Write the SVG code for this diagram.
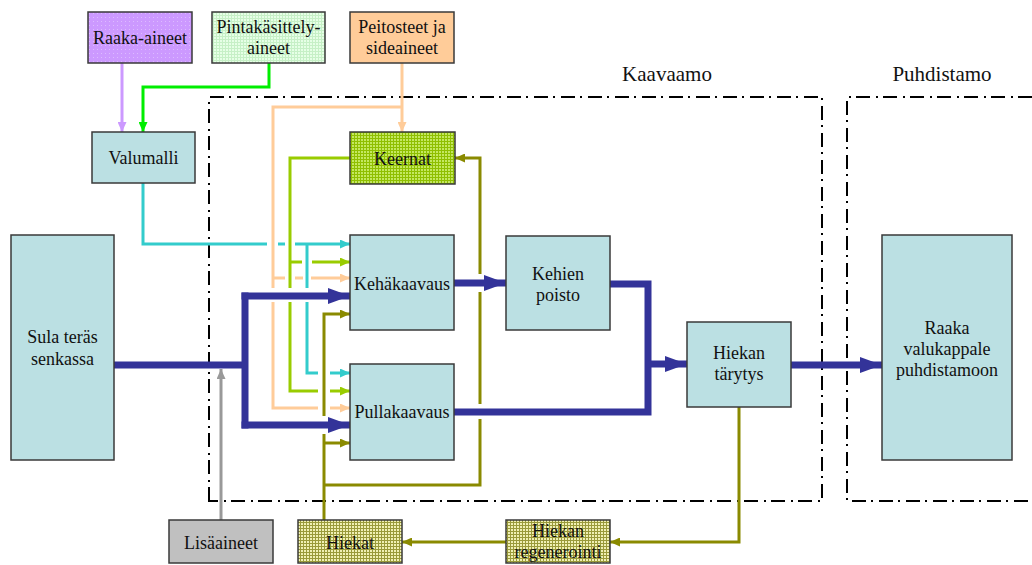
<svg xmlns="http://www.w3.org/2000/svg" width="1032" height="565" viewBox="0 0 1032 565">
  <style>
    .box { stroke: #3a3a3a; stroke-width: 1.5; }
    .blue { fill: #bbe0e3; }
    .txt { font-family: "Liberation Serif", "Times New Roman", serif; font-size: 18px; fill: #111; text-anchor: middle; }
    .area { font-family: "Liberation Serif", "Times New Roman", serif; font-size: 21px; fill: #111; text-anchor: middle; }
    .zone { fill: none; stroke: #000; stroke-width: 2; stroke-dasharray: 14 5 2 6; }
    .ln { fill: none; stroke-width: 3; stroke-linejoin: miter; stroke-linecap: butt; }
    .navy { stroke: #333399; stroke-width: 7; }
    .cyan { stroke: #33cccc; }
    .peach { stroke: #ffcc99; }
    .lime { stroke: #99cc00; }
    .olive { stroke: #8a8a00; }
    .gray { stroke: #999999; }
    .lilac { stroke: #cc99ff; }
    .bright { stroke: #00ee00; }
  </style>
  <defs>
    <pattern id="dotsLilac" width="4" height="4" patternUnits="userSpaceOnUse">
      <rect width="4" height="4" fill="#cc99ff"/>
      <rect x="1" y="1" width="1" height="1" fill="#ddbbff"/>
    </pattern>
    <pattern id="gridMint" width="3" height="3" patternUnits="userSpaceOnUse">
      <rect width="3" height="3" fill="#e6ffe6"/>
      <rect width="3" height="1" fill="#c6f0c6"/>
      <rect width="1" height="3" fill="#c6f0c6"/>
    </pattern>
    <pattern id="gridLime" width="3" height="3" patternUnits="userSpaceOnUse">
      <rect width="3" height="3" fill="#c4e860"/>
      <rect width="3" height="1" fill="#8fbf00"/>
      <rect width="1" height="3" fill="#8fbf00"/>
    </pattern>
    <pattern id="gridKhaki" width="3" height="3" patternUnits="userSpaceOnUse">
      <rect width="3" height="3" fill="#f0f0b4"/>
      <rect width="3" height="1" fill="#9a9a3a"/>
      <rect width="1" height="3" fill="#9a9a3a"/>
    </pattern>
    <marker id="aNavy" markerUnits="userSpaceOnUse" markerWidth="22" markerHeight="16" refX="22" refY="8" orient="auto">
      <path d="M0,0 L22,8 L0,16 z" fill="#333399"/>
    </marker>
    <marker id="aCyan" markerUnits="userSpaceOnUse" markerWidth="10" markerHeight="9" refX="10" refY="4.5" orient="auto">
      <path d="M0,0 L10,4.5 L0,9 z" fill="#33cccc"/>
    </marker>
    <marker id="aPeach" markerUnits="userSpaceOnUse" markerWidth="10" markerHeight="9" refX="10" refY="4.5" orient="auto">
      <path d="M0,0 L10,4.5 L0,9 z" fill="#ffcc99"/>
    </marker>
    <marker id="aLime" markerUnits="userSpaceOnUse" markerWidth="10" markerHeight="9" refX="10" refY="4.5" orient="auto">
      <path d="M0,0 L10,4.5 L0,9 z" fill="#99cc00"/>
    </marker>
    <marker id="aOlive" markerUnits="userSpaceOnUse" markerWidth="10" markerHeight="9" refX="10" refY="4.5" orient="auto">
      <path d="M0,0 L10,4.5 L0,9 z" fill="#8a8a00"/>
    </marker>
    <marker id="aGray" markerUnits="userSpaceOnUse" markerWidth="10" markerHeight="9" refX="10" refY="4.5" orient="auto">
      <path d="M0,0 L10,4.5 L0,9 z" fill="#999999"/>
    </marker>
    <marker id="aLilac" markerUnits="userSpaceOnUse" markerWidth="10" markerHeight="9" refX="10" refY="4.5" orient="auto">
      <path d="M0,0 L10,4.5 L0,9 z" fill="#cc99ff"/>
    </marker>
    <marker id="aBright" markerUnits="userSpaceOnUse" markerWidth="10" markerHeight="9" refX="10" refY="4.5" orient="auto">
      <path d="M0,0 L10,4.5 L0,9 z" fill="#00ee00"/>
    </marker>
  </defs>

  <rect width="1032" height="565" fill="#ffffff"/>

  <!-- plant areas -->
  <g id="areas">
    <path class="zone" d="M209,501 V97 H822 V501 Z"/>
    <path class="zone" d="M1032,97 H847 V501 H1032"/>
    <text class="area" x="667" y="81">Kaavaamo</text>
    <text class="area" x="942" y="81">Puhdistamo</text>
  </g>

  <!-- material flows -->
  <g id="connectors">
    <!-- inputs to the pattern -->
    <path class="ln lilac" d="M122,63 V132" marker-end="url(#aLilac)"/>
    <path class="ln bright" d="M269,63 V87 H143 V132" marker-end="url(#aBright)"/>

    <!-- binders -->
    <path class="ln peach" d="M402,63 V132" marker-end="url(#aPeach)"/>
    <path class="ln peach" d="M402,107 H273 V288"/>
    <path class="ln peach" d="M273,302 V408 H318"/>
    <path class="ln peach" d="M330,408 H350" marker-end="url(#aPeach)"/>
    <path class="ln peach" d="M273,278 H285"/>
    <path class="ln peach" d="M295,278 H303"/>
    <path class="ln peach" d="M311,278 H350" marker-end="url(#aPeach)"/>

    <!-- cores -->
    <path class="ln lime" d="M350,158 H290 V288"/>
    <path class="ln lime" d="M290,302 V391 H318"/>
    <path class="ln lime" d="M330,391 H350" marker-end="url(#aLime)"/>
    <path class="ln lime" d="M290,262 H302"/>
    <path class="ln lime" d="M312,262 H350" marker-end="url(#aLime)"/>

    <!-- pattern -->
    <path class="ln cyan" d="M143,183 V244 H267"/>
    <path class="ln cyan" d="M278,244 H285"/>
    <path class="ln cyan" d="M295,244 H350" marker-end="url(#aCyan)"/>
    <path class="ln cyan" d="M307,244 V288"/>
    <path class="ln cyan" d="M307,302 V373 H318"/>
    <path class="ln cyan" d="M330,373 H350" marker-end="url(#aCyan)"/>

    <!-- sand circuit -->
    <path class="ln olive" d="M739,407 V542 H610" marker-end="url(#aOlive)"/>
    <path class="ln olive" d="M506,542 H402" marker-end="url(#aOlive)"/>
    <path class="ln olive" d="M324,520 V434"/>
    <path class="ln olive" d="M324,416 V314 H350" marker-end="url(#aOlive)"/>
    <path class="ln olive" d="M324,443 H350" marker-end="url(#aOlive)"/>
    <path class="ln olive" d="M324,485 H480 V419"/>
    <path class="ln olive" d="M480,404 V292"/>
    <path class="ln olive" d="M480,274 V158 H455" marker-end="url(#aOlive)"/>

    <!-- additives -->
    <path class="ln gray" d="M221,520 V369" marker-end="url(#aGray)"/>

    <!-- molten steel and castings -->
    <path class="ln navy" d="M114,365 H245"/>
    <path class="ln navy" d="M245,292.5 V428.5"/>
    <path class="ln navy" d="M241.5,296 H350" marker-end="url(#aNavy)"/>
    <path class="ln navy" d="M241.5,425 H350" marker-end="url(#aNavy)"/>
    <path class="ln navy" d="M454,283 H506" marker-end="url(#aNavy)"/>
    <path class="ln navy" d="M610,284 H648 V412 H454"/>
    <path class="ln navy" d="M648,364 H687" marker-end="url(#aNavy)"/>
    <path class="ln navy" d="M791,365 H882" marker-end="url(#aNavy)"/>
  </g>

  <!-- nodes -->
  <g id="raaka-aineet">
    <rect class="box" x="88" y="12" width="104" height="51" fill="url(#dotsLilac)"/>
    <text class="txt" x="140" y="44">Raaka-aineet</text>
  </g>
  <g id="pintakasittelyaineet">
    <rect class="box" x="212" y="12" width="113" height="51" fill="url(#gridMint)"/>
    <text class="txt" x="268.5" y="33">Pintakäsittely-</text>
    <text class="txt" x="268.5" y="54">aineet</text>
  </g>
  <g id="peitosteet">
    <rect class="box" x="350" y="12" width="104" height="51" fill="#ffcc99"/>
    <text class="txt" x="402" y="33">Peitosteet ja</text>
    <text class="txt" x="402" y="54">sideaineet</text>
  </g>
  <g id="valumalli">
    <rect class="box blue" x="92" y="132" width="103" height="51"/>
    <text class="txt" x="143.5" y="164">Valumalli</text>
  </g>
  <g id="sula-teras">
    <rect class="box blue" x="11" y="235" width="103" height="225"/>
    <text class="txt" x="62.5" y="343">Sula teräs</text>
    <text class="txt" x="62.5" y="365">senkassa</text>
  </g>
  <g id="keernat">
    <rect class="box" x="350" y="132" width="105" height="52" fill="url(#gridLime)"/>
    <text class="txt" x="402.5" y="165">Keernat</text>
  </g>
  <g id="kehakaavaus">
    <rect class="box blue" x="350" y="235" width="104" height="95"/>
    <text class="txt" x="402" y="290">Kehäkaavaus</text>
  </g>
  <g id="pullakaavaus">
    <rect class="box blue" x="350" y="364" width="104" height="96"/>
    <text class="txt" x="402" y="418">Pullakaavaus</text>
  </g>
  <g id="kehien-poisto">
    <rect class="box blue" x="506" y="236" width="104" height="94"/>
    <text class="txt" x="558" y="280">Kehien</text>
    <text class="txt" x="558" y="301">poisto</text>
  </g>
  <g id="hiekan-tarytys">
    <rect class="box blue" x="687" y="322" width="104" height="85"/>
    <text class="txt" x="739" y="359">Hiekan</text>
    <text class="txt" x="739" y="380">tärytys</text>
  </g>
  <g id="raaka-valukappale">
    <rect class="box blue" x="882" y="235" width="130" height="225"/>
    <text class="txt" x="947" y="334">Raaka</text>
    <text class="txt" x="947" y="355">valukappale</text>
    <text class="txt" x="947" y="376">puhdistamoon</text>
  </g>
  <g id="lisaaineet">
    <rect class="box" x="169" y="520" width="104" height="43" fill="#c0c0c0"/>
    <text class="txt" x="221" y="549">Lisäaineet</text>
  </g>
  <g id="hiekat">
    <rect class="box" x="298" y="520" width="104" height="43" fill="url(#gridKhaki)"/>
    <text class="txt" x="350" y="549">Hiekat</text>
  </g>
  <g id="hiekan-regenerointi">
    <rect class="box" x="506" y="520" width="104" height="43" fill="url(#gridKhaki)"/>
    <text class="txt" x="558" y="537">Hiekan</text>
    <text class="txt" x="558" y="558">regenerointi</text>
  </g>
</svg>
